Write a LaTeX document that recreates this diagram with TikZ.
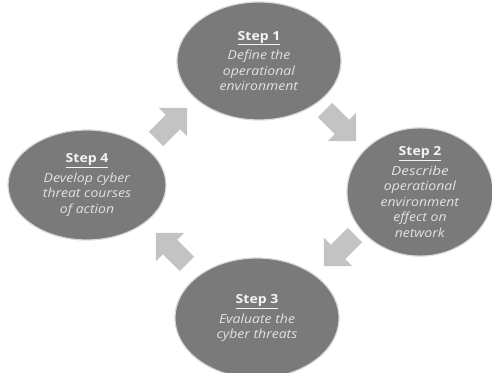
\documentclass[tikz,border=0pt]{standalone}
\usepackage{fontspec}
\setmainfont{Open Sans}[FakeStretch=1.12]
\usetikzlibrary{shapes.geometric,shapes.arrows}
\definecolor{ellgray}{HTML}{7A7A7A}
\definecolor{ellrim}{HTML}{D8D8D8}
\definecolor{arrgray}{HTML}{C3C3C3}
\definecolor{headtxt}{HTML}{F4F4F4}
\definecolor{bodytxt}{HTML}{E2E2E2}
\newcommand{\steplabel}[1]{\textcolor{headtxt}{\underline{\textbf{#1}}}\\[4pt]}
\begin{document}
\begin{tikzpicture}[x=1pt,y=1pt,
  stepell/.style={ellipse, fill=ellgray, draw=ellrim, line width=1.2pt, inner sep=0pt,
    align=center, text=bodytxt, font=\fontsize{12.5}{15.5}\selectfont},
  cyclearrow/.style={single arrow, fill=arrgray, draw=none, inner sep=10pt,
    single arrow head extend=10pt, minimum height=44pt, single arrow head indent=0pt}]
\useasboundingbox (0,0) rectangle (492,372);
\node[stepell, minimum width=164pt, minimum height=118pt] (s1) at (259,311)
  {\steplabel{Step 1}\textit{Define the}\\\textit{operational}\\\textit{environment}};
\node[stepell, minimum width=146pt, minimum height=124pt] (s2) at (420,180)
  {\steplabel{Step 2}\addfontfeature{FakeStretch=1.22}\textit{Describe}\\\textit{operational}\\\textit{environment}\\\textit{effect on}\\\textit{network}};
\node[stepell, minimum width=164pt, minimum height=120pt] (s3) at (257,54)
  {\steplabel{Step 3}\textit{Evaluate the}\\\textit{cyber threats}};
\node[stepell, minimum width=158pt, minimum height=110pt] (s4) at (87,187)
  {\steplabel{Step 4}\textit{Develop cyber}\\\textit{threat courses}\\\textit{of action}};
\node[cyclearrow, rotate=-45] (a12) at (337,250) {};
\node[cyclearrow, rotate=-135] (a23) at (343,125) {};
\node[cyclearrow, rotate=135] (a34) at (175,120) {};
\node[cyclearrow, rotate=45] (a41) at (168,245) {};
\end{tikzpicture}
\end{document}
